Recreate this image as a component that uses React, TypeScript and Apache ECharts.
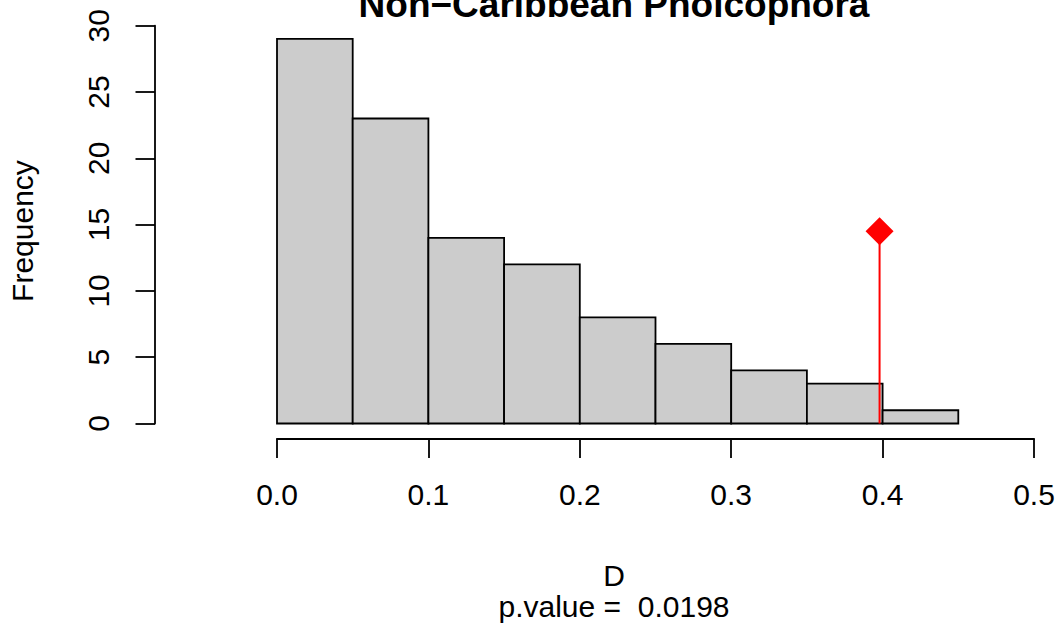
import React, { useEffect, useRef } from "react";
import * as echarts from "echarts";

const binEdges = [0, 0.05, 0.1, 0.15, 0.2, 0.25, 0.3, 0.35, 0.4, 0.45];
const counts = [29, 23, 14, 12, 8, 6, 4, 3, 1];
const xTicks = [0, 0.1, 0.2, 0.3, 0.4, 0.5];
const yTicks = [0, 5, 10, 15, 20, 25, 30];
const observedD = 0.398;
const markerHeight = 14.5;
const titleText = "Non\u2212Caribbean Pholcophora";
const xLabel = "D";
const subLabel = "p.value =  0.0198";
const yLabel = "Frequency";

const FONT = "'Liberation Sans', Arial, Helvetica, sans-serif";

export default function App() {
  const ref = useRef<HTMLDivElement>(null);
  useEffect(() => {
    if (!ref.current) return;
    const chart = echarts.init(ref.current, undefined, { renderer: "svg" });
    const bars = counts.map((c, i) => [binEdges[i], binEdges[i] + 0.05, c]);
    chart.setOption({
      animation: false,
      backgroundColor: "#ffffff",
      grid: { left: 277, right: 25, top: 25.7, bottom: 205.5, containLabel: false },
      xAxis: {
        type: "value",
        min: xTicks[0],
        max: xTicks[xTicks.length - 1],
        interval: 0.1,
        offset: 15,
        splitLine: { show: false },
        axisLine: { show: true, onZero: false, lineStyle: { color: "#000", width: 1.8 } },
        axisTick: { show: true, length: 19.5, lineStyle: { color: "#000", width: 1.8 } },
        axisLabel: {
          color: "#000",
          fontSize: 30,
          fontFamily: FONT,
          margin: 41,
          formatter: (v: number) => v.toFixed(1),
        },
      },
      yAxis: {
        type: "value",
        min: yTicks[0],
        max: yTicks[yTicks.length - 1],
        interval: 5,
        offset: 122,
        splitLine: { show: false },
        axisLine: { show: true, onZero: false, lineStyle: { color: "#000", width: 1.8 } },
        axisTick: { show: true, length: 19.5, lineStyle: { color: "#000", width: 1.8 } },
        axisLabel: {
          color: "#000",
          fontSize: 30,
          fontFamily: FONT,
          rotate: 90,
          margin: 42,
        },
      },
      series: [
        {
          type: "custom",
          data: bars,
          encode: { x: [0, 1], y: 2 },
          renderItem: (params: any, api: any) => {
            const p0 = api.coord([api.value(0), api.value(2)]);
            const p1 = api.coord([api.value(1), 0]);
            return {
              type: "rect",
              shape: { x: p0[0], y: p0[1], width: p1[0] - p0[0], height: p1[1] - p0[1] },
              style: { fill: "#cccccc", stroke: "#000", lineWidth: 1.8 },
            };
          },
          z: 1,
        },
        {
          type: "line",
          data: [
            [observedD, 0],
            [observedD, markerHeight],
          ],
          symbol: "none",
          lineStyle: { color: "#ff0000", width: 2 },
          z: 2,
        },
        {
          type: "scatter",
          data: [[observedD, markerHeight]],
          symbol: "diamond",
          symbolSize: 28,
          itemStyle: { color: "#ff0000", opacity: 1 },
          z: 3,
        },
      ],
      graphic: [
        {
          type: "text",
          x: 614,
          y: 4,
          style: {
            text: titleText,
            font: `bold 37px ${FONT}`,
            fill: "#000",
            textAlign: "center",
            textVerticalAlign: "middle",
          },
        },
        {
          type: "text",
          x: 614,
          y: 575,
          style: {
            text: xLabel,
            font: `30px ${FONT}`,
            fill: "#000",
            textAlign: "center",
            textVerticalAlign: "middle",
          },
        },
        {
          type: "text",
          x: 614,
          y: 606,
          style: {
            text: subLabel,
            font: `30px ${FONT}`,
            fill: "#000",
            textAlign: "center",
            textVerticalAlign: "middle",
          },
        },
        {
          type: "text",
          x: 22,
          y: 231,
          rotation: Math.PI / 2,
          style: {
            text: yLabel,
            font: `30px ${FONT}`,
            fill: "#000",
            textAlign: "center",
            textVerticalAlign: "middle",
          },
        },
      ],
    });
    return () => chart.dispose();
  }, []);
  return (
    <div
      ref={ref}
      style={{ position: "absolute", left: 0, top: 0, width: 1059, height: 629 }}
    />
  );
}
